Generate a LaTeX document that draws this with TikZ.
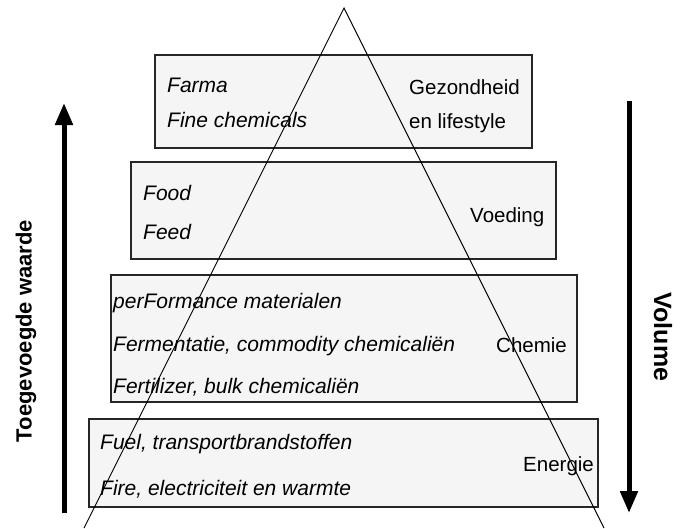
\documentclass[tikz,border=0pt]{standalone}
\usepackage{fontspec}
\setmainfont{Liberation Sans}
\usetikzlibrary{arrows.meta}
\begin{document}
\begin{tikzpicture}[x=1pt,y=-1pt,
  layerbox/.style={draw=black!85, line width=1.3pt, fill=black!4},
  itemtxt/.style={anchor=base west, inner sep=0pt, font=\fontsize{21}{24}\selectfont\itshape},
  cattxt/.style={anchor=base west, inner sep=0pt, font=\fontsize{20.5}{24}\selectfont, align=left},
  sidetxt/.style={inner sep=0pt, font=\bfseries},
  bigarrow/.style={line width=5pt, -{Triangle[width=17pt,length=22pt]}},
  pyr/.style={line width=0.9pt, black}
]
\useasboundingbox (0,0) rectangle (683,528);

% layers
\draw[layerbox] (155,55) rectangle (532,148);
\draw[layerbox] (131,162) rectangle (556,259);
\draw[layerbox] (111,275) rectangle (577,402);
\draw[layerbox] (89,419) rectangle (598,507);

% pyramid
\coordinate (apex) at (344,8);
\coordinate (bl) at (84,528);
\coordinate (br) at (604,528);
\draw[pyr] (bl) -- (apex) -- (br);

% top layer
\node[itemtxt] (farma) at (167,92) {Farma};
\node[itemtxt] (fine) at (167,127) {Fine chemicals};
\node[cattxt] (gez) at (409,94) {Gezondheid};
\node[cattxt] (lif) at (409,128) {en lifestyle};

% second layer
\node[itemtxt] (food) at (143,200) {Food};
\node[itemtxt] (feed) at (143,239) {Feed};
\node[cattxt] (voed) at (470,222) {Voeding};

% third layer
\node[itemtxt] (perf) at (113,308) {perFormance materialen};
\node[itemtxt] (ferm) at (113,351) {Fermentatie, commodity chemicaliën};
\node[itemtxt] (fert) at (113,393) {Fertilizer, bulk chemicaliën};
\node[cattxt] (chem) at (496,352) {Chemie};

% bottom layer
\node[itemtxt] (fuel) at (100,449) {Fuel, transportbrandstoffen};
\node[itemtxt] (fire) at (100,495) {Fire, electriciteit en warmte};
\node[cattxt] (ener) at (523,471) {Energie};

% side arrows
\coordinate (la0) at (64,513);
\coordinate (la1) at (64,103);
\draw[bigarrow] (la0) -- (la1);
\coordinate (ra0) at (629,101);
\coordinate (ra1) at (629,513);
\draw[bigarrow] (ra0) -- (ra1);

\node[sidetxt, rotate=90, font=\fontsize{22}{26}\selectfont\bfseries] (tw) at (26,331) {Toegevoegde waarde};
\node[sidetxt, rotate=-90, font=\fontsize{25}{28}\selectfont\bfseries] (vol) at (663,337) {Volume};
\end{tikzpicture}
\end{document}
